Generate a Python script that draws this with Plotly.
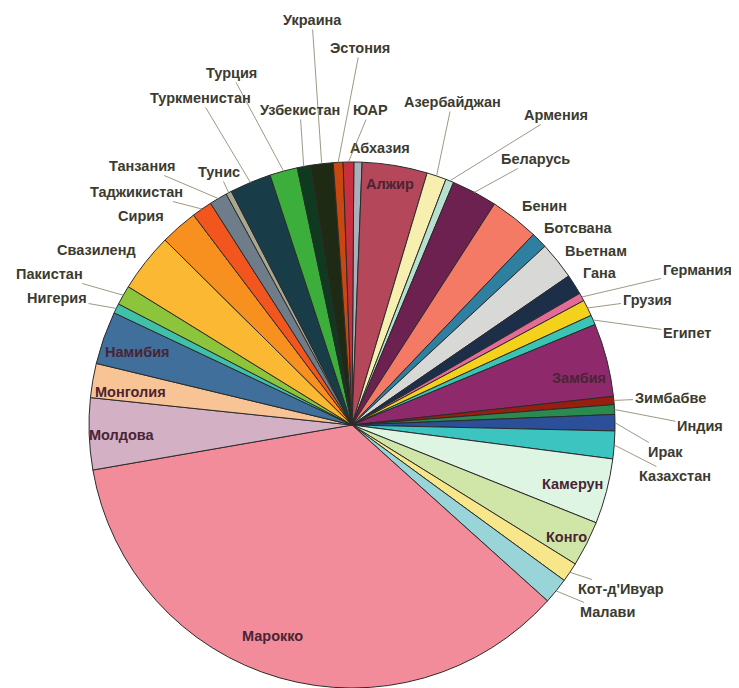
import numpy as np
import plotly.graph_objects as go

# the page puts the figure 8px in from the top-left corner
OFF = 8
W, H = 739 - OFF, 688 - OFF

# slices, clockwise from 12 o'clock, as drawn in the picture
countries = ["Абхазия", "Алжир", "Азербайджан", "Армения", "Беларусь", "Бенин",
             "Ботсвана", "Вьетнам", "Гана", "Германия", "Грузия", "Египет",
             "Замбия", "Зимбабве", "Индия", "Ирак", "Казахстан", "Камерун",
             "Конго", "Кот-д'Ивуар", "Малави", "Марокко", "Молдова", "Монголия",
             "Намибия", "Нигерия", "Пакистан", "Свазиленд", "Сирия", "Таджикистан",
             "Танзания", "Тунис", "Туркменистан", "Турция", "Узбекистан", "Украина",
             "Эстония", "ЮАР"]
shares = [0.5, 4.0, 1.2, 0.5, 2.8, 3.0,
          1.0, 2.3, 1.25, 0.5, 1.0, 0.6,
          4.5, 0.5, 0.6, 1.0, 1.7, 4.0,
          2.8, 1.2, 1.6, 35.6, 4.4, 2.1,
          3.25, 0.6, 1.2, 3.6, 2.3, 1.25,
          1.1, 0.35, 2.55, 1.7, 0.8, 1.4,
          0.6, 0.65]
colors = ["#a9b0bc", "#b4475a", "#f6efb0", "#b8e0d0", "#6c2150", "#f47a66",
          "#2e7fa0", "#d8d8d6", "#1c2e48", "#e46a98", "#f4d21c", "#3ac4b4",
          "#8e2a6c", "#9a1e10", "#2a8a50", "#2c4f9a", "#3cc4c0", "#dff5e4",
          "#d0e6a8", "#f8e68a", "#98d4d8", "#f28c9a", "#d4b0c4", "#f8c496",
          "#3f6f9a", "#40c0a8", "#8cc43c", "#fbb833", "#f7901e", "#f2561e",
          "#6f7c8a", "#a8a890", "#183c48", "#3cae3c", "#0e3a20", "#1e2a14",
          "#c84810", "#c83040"]

# label placement (pixel centre of the text in the picture)
inside_pos = {"Алжир": (390, 184), "Замбия": (579, 378), "Камерун": (572, 484),
              "Конго": (566, 537), "Марокко": (272, 636), "Молдова": (122, 435),
              "Монголия": (130, 392), "Намибия": (137, 352)}
plain_pos = {"Абхазия": (380, 148), "Бенин": (544, 206), "Ботсвана": (578, 228),
             "Вьетнам": (596, 251), "Гана": (600, 273), "Свазиленд": (96, 250),
             "Сирия": (141, 216)}
leader_pos = {"Украина": (312, 20), "Эстония": (360, 48), "Турция": (231, 73),
              "Туркменистан": (200, 98), "Узбекистан": (300, 110), "ЮАР": (370, 110),
              "Азербайджан": (452, 102), "Армения": (556, 115), "Беларусь": (535, 159),
              "Германия": (697, 270), "Грузия": (647, 300), "Египет": (687, 333),
              "Зимбабве": (670, 398), "Индия": (700, 426), "Ирак": (665, 452),
              "Казахстан": (675, 476), "Кот-д'Ивуар": (621, 589), "Малави": (607, 612),
              "Нигерия": (57, 298), "Пакистан": (49, 274), "Таджикистан": (136, 192),
              "Танзания": (142, 166), "Тунис": (219, 172)}

cx, cy, R = 352 - OFF, 425 - OFF, 263
rotation = 0.4

fig = go.Figure(go.Pie(
    values=shares, labels=countries, sort=False, direction="clockwise",
    rotation=rotation, textinfo="none", showlegend=False,
    marker=dict(colors=colors, line=dict(color="#2b2b2b", width=1)),
    domain=dict(x=[(cx - R) / W, (cx + R) / W], y=[(H - cy - R) / H, (H - cy + R) / H]),
))

vals = np.array(shares)
mids = rotation + 360 * (np.cumsum(vals) - vals / 2) / vals.sum()
rim = {c: (cx + R * np.sin(np.radians(a)), cy - R * np.cos(np.radians(a)))
       for c, a in zip(countries, mids)}


def paper(px, py):
    return (px - OFF) / W, 1 - (py - OFF) / H


font = dict(family="Liberation Sans, Arial", size=14.5, color="#3b3b30", weight="bold")
ann = []
for name, (lx, ly) in inside_pos.items():
    x, y = paper(lx, ly)
    ann.append(dict(x=x, y=y, xref="paper", yref="paper", text=name,
                    xanchor="center", yanchor="middle",
                    showarrow=False, font=dict(font, color="#4a2434")))
for name, (lx, ly) in plain_pos.items():
    x, y = paper(lx, ly)
    ann.append(dict(x=x, y=y, xref="paper", yref="paper", text=name,
                    xanchor="center", yanchor="middle",
                    showarrow=False, font=font))
for name, (lx, ly) in leader_pos.items():
    rx, ry = rim[name]
    ann.append(dict(x=rx / W, y=1 - ry / H, xref="paper", yref="paper", text=name,
                    showarrow=True, arrowhead=0, arrowwidth=0.9, arrowcolor="#8f8f76",
                    standoff=0, ax=lx - OFF - rx, ay=ly - OFF - ry, font=font))

fig.update_layout(width=W, height=H, margin=dict(l=0, r=0, t=0, b=0),
                  paper_bgcolor="white", plot_bgcolor="white", annotations=ann)
fig.write_html("out.html")
